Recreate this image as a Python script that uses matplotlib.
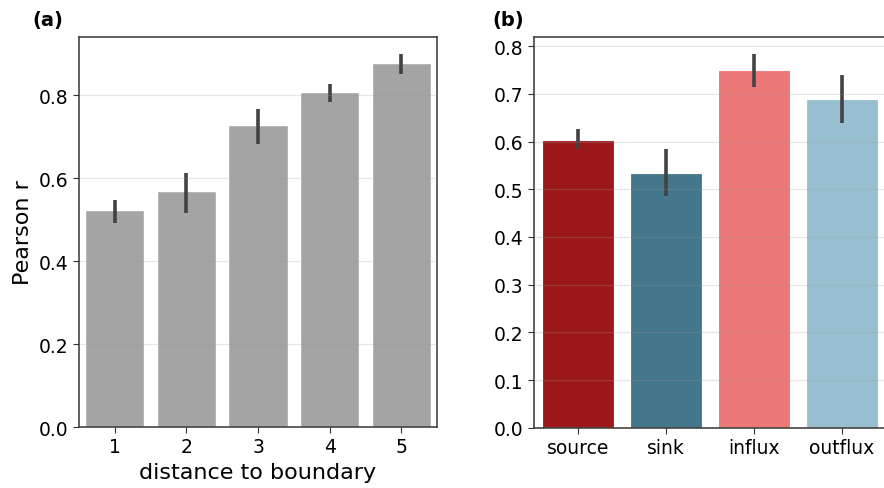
import matplotlib
matplotlib.use('Agg')
import matplotlib.pyplot as plt
import numpy as np

# panel (a): correlation vs distance to boundary
distances = ['1', '2', '3', '4', '5']
dist_r = [0.520, 0.566, 0.725, 0.805, 0.874]
dist_lo = [0.491, 0.517, 0.683, 0.784, 0.851]
dist_hi = [0.548, 0.613, 0.766, 0.827, 0.900]

# panel (b): correlation per node type
node_types = ['source', 'sink', 'influx', 'outflux']
type_r = [0.602, 0.533, 0.748, 0.687]
type_lo = [0.584, 0.485, 0.715, 0.640]
type_hi = [0.626, 0.584, 0.784, 0.740]
type_colors = ['#9c171a', '#44768c', '#ec7777', '#97bfd0']

plt.rcParams['font.family'] = 'DejaVu Sans'
fig = plt.figure(figsize=(8.84, 4.89), dpi=100)

err_kw = dict(ecolor='#424242', elinewidth=2.6, capsize=0)


def style_axis(ax):
    ax.grid(axis='y', color='#999999', alpha=0.25, linewidth=0.9)
    ax.set_axisbelow(False)
    ax.tick_params(labelsize=13.5, length=4, color='#333333')
    for sp in ax.spines.values():
        sp.set_color('#444444')
        sp.set_linewidth(1.2)


# (a)
ax1 = fig.add_axes([0.0894, 0.1247, 0.405, 0.7975])
x1 = np.arange(len(distances))
r1 = np.array(dist_r)
yerr1 = [r1 - np.array(dist_lo), np.array(dist_hi) - r1]
ax1.bar(x1, r1, width=0.8, color='#a4a4a4', edgecolor='#b4b4b4', linewidth=0.6,
        yerr=yerr1, error_kw=err_kw)
ax1.set_xticks(x1)
ax1.set_xticklabels(distances)
ax1.set_xlim(-0.5, len(distances) - 0.5)
ax1.set_ylim(0, 0.94)
ax1.set_yticks([0.0, 0.2, 0.4, 0.6, 0.8])
ax1.set_ylabel('Pearson r', fontsize=16)
ax1.set_xlabel('distance to boundary', fontsize=16)
style_axis(ax1)
fig.text(0.037, 0.958, '(a)', fontsize=14, fontweight='bold', va='center')

# (b)
ax2 = fig.add_axes([0.604, 0.1233, 0.398, 0.7996])
x2 = np.arange(len(node_types))
r2 = np.array(type_r)
yerr2 = [r2 - np.array(type_lo), np.array(type_hi) - r2]
ax2.bar(x2, r2, width=0.8, color=type_colors, edgecolor=type_colors, linewidth=0.6,
        yerr=yerr2, error_kw=err_kw)
ax2.set_xticks(x2)
ax2.set_xticklabels(node_types)
ax2.set_xlim(-0.5, len(node_types) - 0.5)
ax2.set_ylim(0, 0.82)
ax2.set_yticks(np.arange(0, 0.81, 0.1))
style_axis(ax2)
ax2.spines['right'].set_visible(False)
fig.text(0.557, 0.958, '(b)', fontsize=14, fontweight='bold', va='center')

fig.savefig('out.png', dpi=100)
